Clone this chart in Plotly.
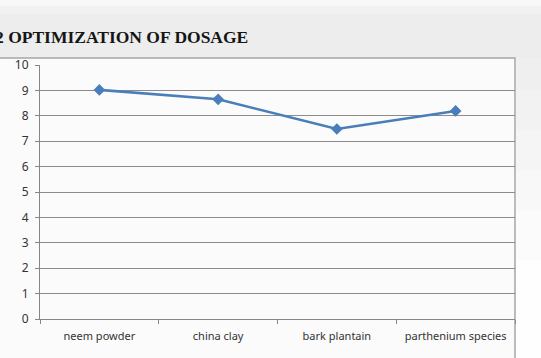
import plotly.graph_objects as go

categories = ["neem powder", "china clay", "bark plantain", "parthenium species"]
values = [9.02, 8.65, 7.48, 8.19]
y_ticks = list(range(0, 11))
title_text = "2 OPTIMIZATION OF DOSAGE"

W, H = 541, 358
L, R, T, B = 40, 515, 65, 319  # plot area in pixels


def px(x):
    return (x - L) / (R - L)


def py(y):
    return (B - y) / (B - T)


fig = go.Figure()
fig.add_trace(go.Scatter(
    x=categories, y=values, mode="lines+markers",
    line=dict(color="#4a7ebb", width=2.6),
    marker=dict(symbol="diamond", size=9, color="#4a7ebb"),
    showlegend=False, hoverinfo="skip",
))

shapes = []
# background bands (gradient approximation)
bands = [(0, 6, "#f8f8f8"), (6, 14, "#f1f1f1"), (14, 58, "#ededed")]
for y0, y1, c in bands:
    shapes.append(dict(type="rect", xref="paper", yref="paper", layer="below",
                       x0=px(0), x1=px(W), y0=py(y1), y1=py(y0),
                       fillcolor=c, line=dict(width=0)))
right_bands = [(58, 90, "#efefef"), (90, 130, "#f2f2f2"), (130, 170, "#f5f5f5"),
               (170, 210, "#f8f8f8"), (210, 260, "#fbfbfb"), (260, 358, "#fefefe")]
for y0, y1, c in right_bands:
    shapes.append(dict(type="rect", xref="paper", yref="paper", layer="below",
                       x0=px(516), x1=px(W), y0=py(y1), y1=py(y0),
                       fillcolor=c, line=dict(width=0)))
# chart frame body
shapes.append(dict(type="rect", xref="paper", yref="paper", layer="below",
                   x0=px(-5), x1=px(515), y0=py(H + 5), y1=py(58),
                   fillcolor="#fbfbfb", line=dict(color="#a6a6a6", width=1.5)))

fig.update_layout(
    width=W, height=H, autosize=False,
    margin=dict(l=L, r=W - R, t=T, b=H - B, pad=0),
    paper_bgcolor="#ffffff", plot_bgcolor="#ffffff",
    shapes=shapes,
    xaxis=dict(
        type="category", range=[-0.5, 3.5], tickson="boundaries",
        ticks="outside", ticklen=4, tickcolor="#868686",
        showline=True, linecolor="#868686", linewidth=1,
        showgrid=False, zeroline=False, ticklabelstandoff=7,
        tickfont=dict(family="Noto Sans, Lato, sans-serif", size=11, color="#333333"),
    ),
    yaxis=dict(
        range=[0, 10], tickvals=y_ticks, ticks="outside", ticklen=4,
        tickcolor="#868686", showline=True, linecolor="#868686", linewidth=1,
        showgrid=True, gridcolor="#8c8c8c", gridwidth=1, zeroline=False,
        ticklabelstandoff=4,
        tickfont=dict(family="Noto Sans, Lato, sans-serif", size=12, color="#333333"),
    ),
    annotations=[dict(
        text=title_text, xref="paper", yref="paper",
        x=px(-7), y=py(37.5), xanchor="left", yanchor="middle", showarrow=False,
        font=dict(family="Liberation Serif, Times New Roman, serif", size=17.5,
                  color="#151515", weight="bold"),
    )],
)

fig.write_html("out.html")
